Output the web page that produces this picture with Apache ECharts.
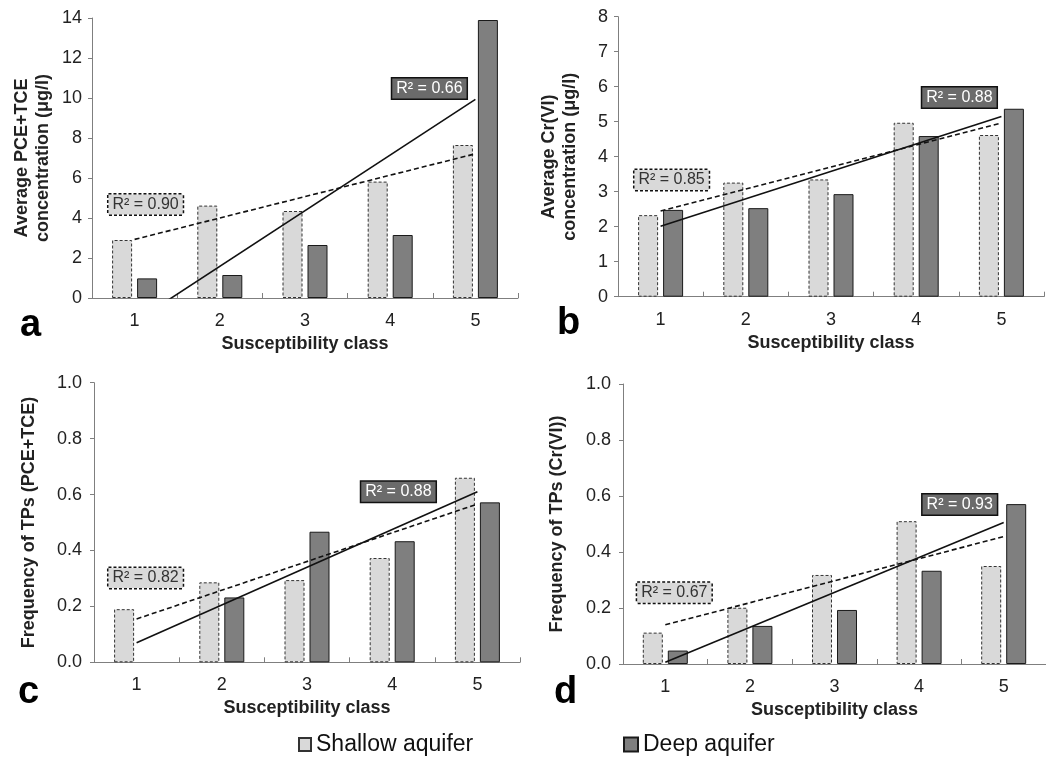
<!DOCTYPE html>
<html>
<head>
<meta charset="utf-8">
<script src="https://cdn.jsdelivr.net/npm/echarts@6/dist/echarts.min.js"></script>
<style>html,body{margin:0;padding:0;background:#fff;}#c{width:1046px;height:758px;}</style>
</head>
<body>
<div id="c"></div>
<script>
// ---- data ----
const categories = ['1', '2', '3', '4', '5'];
const seriesNames = ['Shallow aquifer', 'Deep aquifer'];

const shallowA = [2.9, 4.62, 4.35, 5.82, 7.65];
const deepA = [0.98, 1.15, 2.65, 3.15, 13.9];
const shallowB = [2.33, 3.26, 3.35, 4.97, 4.62];
const deepB = [2.48, 2.53, 2.93, 4.59, 5.37];
const shallowC = [0.19, 0.286, 0.294, 0.373, 0.66];
const deepC = [0, 0.232, 0.467, 0.433, 0.572];
const shallowD = [0.112, 0.201, 0.318, 0.51, 0.35];
const deepD = [0.048, 0.136, 0.193, 0.333, 0.571];

// linear trend line values at class 1 and class 5
const trendShallowA = [2.93, 7.21];
const trendDeepA = [-1.2, 9.93];
const trendShallowB = [2.45, 4.96];
const trendDeepB = [2.01, 5.15];
const trendShallowC = [0.155, 0.566];
const trendDeepC = [0.07, 0.61];
const trendShallowD = [0.14, 0.455];
const trendDeepD = [0.006, 0.505];

const r2Shallow = ['0.90', '0.85', '0.82', '0.67'];
const r2Deep = ['0.66', '0.88', '0.88', '0.93'];

const yMax = [14, 8, 1, 1];
const yInterval = [2, 1, 0.2, 0.2];
const yDecimals = [0, 0, 1, 1];
const yTitles = ['Average PCE+TCE\nconcentration (\u03bcg/l)', 'Average Cr(VI)\nconcentration (\u03bcg/l)',
                 'Frequency of TPs (PCE+TCE)', 'Frequency of TPs (Cr(VI))'];
const xTitle = 'Susceptibility class';
const panelLetters = ['a', 'b', 'c', 'd'];

// ---- layout / style ----
const FONT = "'Liberation Sans', Arial, Helvetica, sans-serif";
const grids = [
  {left: 92, top: 18, width: 426, height: 280},
  {left: 618, top: 16.7, width: 426, height: 280},
  {left: 94, top: 382.7, width: 426, height: 279.6},
  {left: 623, top: 384, width: 423, height: 280}
];
const yNameGap = [38, 37, 54, 55];
const yLabelMargin = [10, 10, 12, 12];
const shallowLabelOffset = [[11, -35], [11, -31], [9, -41], [9, -32]];
const deepLabelOffset = [[-46, -11], [-42, -19], [-79, 0], [-44, -18]];
const letterPos = [[20, 327], [557, 325], [18, 694], [554, 694]];

const shallowData = [shallowA, shallowB, shallowC, shallowD];
const deepData = [deepA, deepB, deepC, deepD];
const trendShallow = [trendShallowA, trendShallowB, trendShallowC, trendShallowD];
const trendDeep = [trendDeepA, trendDeepB, trendDeepC, trendDeepD];

const LIGHT = '#d9d9d9', DARK = '#7f7f7f', AXIS = '#7f7f7f', TXT = '#222';

function trendLine(ends) { return [ends[0], '-', '-', '-', ends[1]]; }
// zero-height bars are drawn without outline
function barItems(values) {
  return values.map(v => v === 0 ? {value: v, itemStyle: {borderWidth: 0}} : v);
}

const xAxes = [], yAxes = [], series = [], graphics = [];
for (let i = 0; i < 4; i++) {
  xAxes.push({
    type: 'category', gridIndex: i, data: categories,
    axisLine: {lineStyle: {color: AXIS, width: 1}},
    axisTick: {show: true, inside: true, length: 5, lineStyle: {color: AXIS}},
    axisLabel: {color: TXT, fontSize: 18, fontFamily: FONT, margin: 14},
    name: xTitle, nameLocation: 'middle', nameGap: 37,
    nameTextStyle: {color: TXT, fontSize: 18, fontWeight: 'bold', fontFamily: FONT}
  });
  const dec = yDecimals[i];
  yAxes.push({
    type: 'value', gridIndex: i, min: 0, max: yMax[i], interval: yInterval[i],
    axisLine: {show: true, lineStyle: {color: AXIS, width: 1}},
    axisTick: {show: true, length: 4, lineStyle: {color: AXIS}},
    splitLine: {show: false},
    axisLabel: {color: TXT, fontSize: 18, fontFamily: FONT, margin: yLabelMargin[i],
      formatter: v => Number(v).toFixed(dec)},
    name: yTitles[i], nameLocation: 'middle', nameGap: yNameGap[i],
    nameTextStyle: {color: TXT, fontSize: 18, fontWeight: 'bold', fontFamily: FONT, lineHeight: 21}
  });
  series.push({
    name: seriesNames[0], type: 'bar', xAxisIndex: i, yAxisIndex: i,
    data: barItems(shallowData[i]), barWidth: 20, barGap: '25%',
    itemStyle: {color: LIGHT, borderColor: '#333', borderWidth: 1, borderType: [3, 2]}
  });
  series.push({
    name: seriesNames[1], type: 'bar', xAxisIndex: i, yAxisIndex: i,
    data: barItems(deepData[i]), barWidth: 20, barGap: '25%',
    itemStyle: {color: DARK, borderColor: '#1a1a1a', borderWidth: 1}
  });
  series.push({
    name: 'shallowTrend' + i, type: 'line', xAxisIndex: i, yAxisIndex: i,
    data: trendLine(trendShallow[i]), connectNulls: true, symbol: 'none', clip: true,
    lineStyle: {color: '#111', width: 1.6, type: [5, 3]}, z: 5,
    markPoint: {
      symbol: 'rect', symbolSize: 1, itemStyle: {color: 'rgba(0,0,0,0)'}, silent: true,
      data: [{coord: [0, trendShallow[i][0]],
        label: {show: true, position: 'inside', offset: shallowLabelOffset[i],
          formatter: 'R\u00b2 = ' + r2Shallow[i], color: '#333', fontSize: 16, fontFamily: FONT,
          backgroundColor: LIGHT, borderColor: '#111', borderWidth: 1.5, borderType: [3, 2],
          padding: [3, 4, 1, 4]}}]
    }
  });
  series.push({
    name: 'deepTrend' + i, type: 'line', xAxisIndex: i, yAxisIndex: i,
    data: trendLine(trendDeep[i]), connectNulls: true, symbol: 'none', clip: true,
    lineStyle: {color: '#111', width: 1.6, type: 'solid'}, z: 5,
    markPoint: {
      symbol: 'rect', symbolSize: 1, itemStyle: {color: 'rgba(0,0,0,0)'}, silent: true,
      data: [{coord: [4, trendDeep[i][1]],
        label: {show: true, position: 'inside', offset: deepLabelOffset[i],
          formatter: 'R\u00b2 = ' + r2Deep[i], color: '#fff', fontSize: 16, fontFamily: FONT,
          backgroundColor: '#6b6b6b', borderColor: '#111', borderWidth: 1.5,
          padding: [3, 4, 1, 4]}}]
    }
  });
  graphics.push({
    type: 'text', left: letterPos[i][0], top: letterPos[i][1] - 20,
    style: {text: panelLetters[i], font: "bold 38px 'Liberation Sans', Arial, sans-serif", fill: '#000'}
  });
}

const chart = echarts.init(document.getElementById('c'), null, {renderer: 'canvas'});
chart.setOption({
  animation: false,
  backgroundColor: '#fff',
  grid: grids.map(g => Object.assign({outerBoundsMode: 'none', containLabel: false}, g)),
  xAxis: xAxes,
  yAxis: yAxes,
  series: series,
  legend: [
    {data: [{name: seriesNames[0], icon: 'rect'}], left: 298, top: 733, padding: 0,
     itemWidth: 12, itemHeight: 13,
     textStyle: {fontSize: 23, color: '#111', fontFamily: FONT}, selectedMode: false},
    {data: [{name: seriesNames[1], icon: 'rect'}], left: 623, top: 733, padding: 0,
     itemWidth: 14, itemHeight: 14,
     textStyle: {fontSize: 23, color: '#111', fontFamily: FONT}, selectedMode: false}
  ],
  graphic: graphics
});
</script>
</body>
</html>
